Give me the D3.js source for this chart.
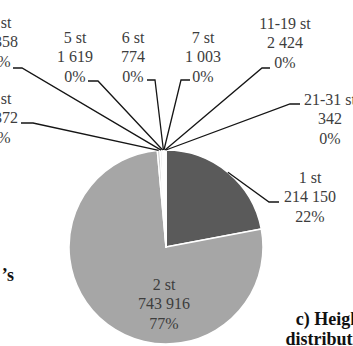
<!DOCTYPE html>
<html>
<head>
<meta charset="utf-8">
<script src="https://cdn.jsdelivr.net/npm/d3@7"></script>
<style>
  html, body { margin: 0; padding: 0; background: #fff; overflow: hidden; }
  svg { display: block; }
</style>
</head>
<body>
<svg id="chart" width="353" height="346"></svg>
<script>
// Buildings by number of storeys
const categories = ["1 st", "2 st", "3 st", "4 st", "5 st", "6 st", "7 st", "11-19 st", "21-31 st"];
const buildings  = [214150, 743916, 4372, 3358, 1619, 774, 1003, 2424, 342];
const titleLines = ["c) Height", "distribution"];
const sideTitle  = "\u2019s";

// Slice fills, in category order
const fills = ["#5a5a5a", "#a6a6a6", "#c9c9c9", "#dcdcdc", "#e6e6e6", "#ececec", "#e2e2e2", "#d4d4d4", "#efefef"];

// Label placement: text centre x, first baseline y, leader attach point (ax, ay) and knee x
const labelLayout = [
  { x: 310, y: 183, ax: 279, ay: 202, kx: 269 },
  { x: 164, y: 290 },
  { x: 0,   y: 104, ax: 21,  ay: 123, kx: 33 },
  { x: 0,   y: 28,  ax: 13,  ay: 68,  kx: 22 },
  { x: 75,  y: 43,  ax: 88,  ay: 81,  kx: 98 },
  { x: 133, y: 43,  ax: 147, ay: 80,  kx: 155 },
  { x: 203, y: 43,  ax: 190, ay: 80,  kx: 181 },
  { x: 285, y: 29,  ax: 270, ay: 68,  kx: 262 },
  { x: 330, y: 105, ax: 300, ay: 104, kx: 290 }
];

const svg = d3.select("#chart");
const cx = 166, cy = 247, r = 97;
const lineGap = 19.3;
const serif = "'Liberation Serif', 'Times New Roman', serif";

const locale = d3.formatLocale({ decimal: ",", thousands: " ", grouping: [3], currency: ["", ""] });
const fmt = locale.format(",");
const total = d3.sum(buildings);

const data = categories.map((c, i) => ({ cat: c, value: buildings[i], fill: fills[i], lay: labelLayout[i] }));

const pie = d3.pie().sort(null).value(d => d.value).startAngle(0).endAngle(2 * Math.PI);
const arcs = pie(data);
const arc = d3.arc().innerRadius(0).outerRadius(r);
const edge = d3.arc().innerRadius(r).outerRadius(r);

const g = svg.append("g").attr("transform", `translate(${cx},${cy})`);
g.selectAll("path.slice")
  .data(arcs)
  .join("path")
  .attr("class", "slice")
  .attr("d", arc)
  .attr("fill", d => d.data.fill)
  .attr("stroke", "#fff")
  .attr("stroke-width", 1.5)
  .attr("stroke-linejoin", "round");

// Leader lines
const line = d3.line();
svg.selectAll("path.leader")
  .data(arcs.filter(d => d.data.lay.ax !== undefined))
  .join("path")
  .attr("class", "leader")
  .attr("d", d => {
    const [ex, ey] = edge.centroid(d);
    const L = d.data.lay;
    return line([[cx + ex, cy + ey], [L.kx, L.ay], [L.ax, L.ay]]);
  })
  .attr("fill", "none")
  .attr("stroke", "#151515")
  .attr("stroke-width", 1.3);

// Data labels: category, count, share
const labels = svg.selectAll("text.lbl")
  .data(arcs)
  .join("text")
  .attr("class", "lbl")
  .attr("text-anchor", "middle")
  .attr("font-family", serif)
  .attr("font-size", 16)
  .attr("fill", "#3d3d3d");

labels.each(function (d) {
  const L = d.data.lay;
  const rows = [d.data.cat, fmt(d.data.value), Math.round(d.data.value / total * 100) + "%"];
  d3.select(this).selectAll("tspan")
    .data(rows)
    .join("tspan")
    .attr("x", L.x)
    .attr("y", (_, i) => L.y + i * lineGap)
    .text(t => t);
});

// Panel titles
svg.append("text")
  .attr("text-anchor", "middle")
  .attr("font-family", serif)
  .attr("font-weight", "bold")
  .attr("font-size", 18)
  .attr("fill", "#111")
  .selectAll("tspan")
  .data(titleLines)
  .join("tspan")
  .attr("x", 331)
  .attr("y", (_, i) => 325 + i * 20)
  .text(t => t);

svg.append("text")
  .attr("text-anchor", "end")
  .attr("x", 14)
  .attr("y", 281)
  .attr("font-family", serif)
  .attr("font-weight", "bold")
  .attr("font-size", 18)
  .attr("fill", "#111")
  .text(sideTitle);
</script>
</body>
</html>
